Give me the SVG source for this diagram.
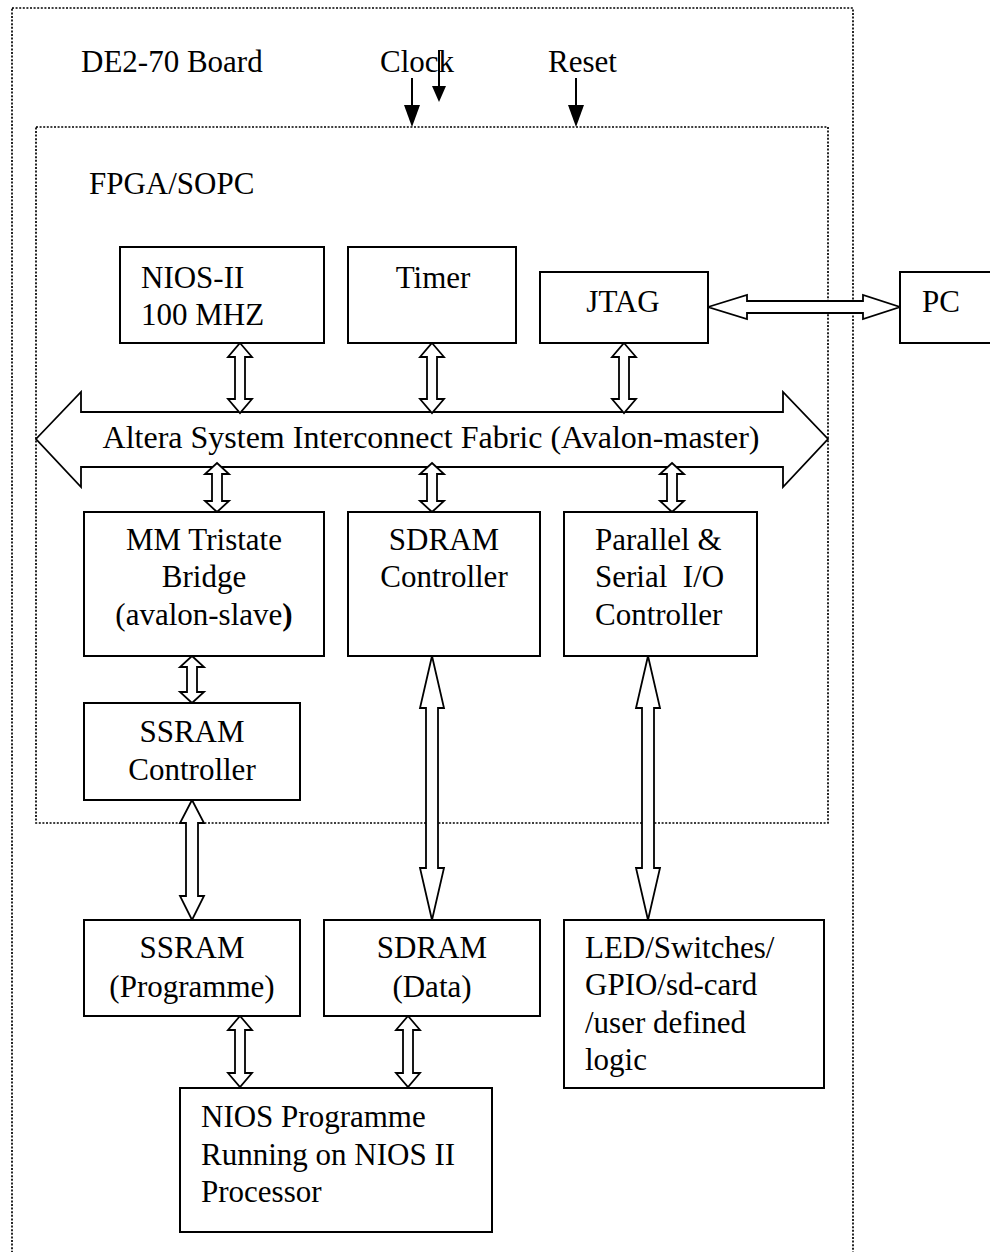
<svg xmlns="http://www.w3.org/2000/svg" width="990" height="1252" viewBox="0 0 990 1252">
<style>
text{font-family:"Liberation Serif","Times New Roman",serif;font-size:31px;fill:#000}
.c{text-anchor:middle}
.box{fill:#fff;stroke:#000;stroke-width:2}
.dot{fill:none;stroke:#000;stroke-width:1.7;stroke-dasharray:2 1.6}
.dbl{fill:#fff;stroke:#000;stroke-width:1.8;stroke-linejoin:miter}
.sig{stroke:#000;stroke-width:2;fill:none}
.head{fill:#000}
</style>
<rect width="990" height="1252" fill="#fff"/>
<g id="board">
<rect class="dot" x="12" y="8" width="841" height="1270"/>
<text x="81" y="72">DE2-70 Board</text>
<text x="380" y="72">Clock</text>
<text x="548" y="72">Reset</text>
</g>
<g id="fpga">
<rect class="dot" x="36" y="127" width="792" height="696"/>
<text x="89" y="194">FPGA/SOPC</text>
</g>
<g id="connectors">
<line class="sig" x1="412" y1="78" x2="412" y2="105"/>
<polygon class="head" points="404,105 420,105 412,127"/>
<line class="sig" x1="439" y1="50" x2="439" y2="86"/>
<polygon class="head" points="432,86 446,86 439,102"/>
<line class="sig" x1="576" y1="78" x2="576" y2="105"/>
<polygon class="head" points="568,105 584,105 576,127"/>
<polygon class="dbl" points="36,439 81,392 81,412 783,412 783,392 828,439 783,487 783,467 81,467 81,487"/>
<polygon class="dbl" points="708,307 747,295 747,301 863,301 863,295 900,307 863,319 863,313 747,313 747,319"/>
<polygon class="dbl" points="240,343 252,357 245,357 245,399 252,399 240,413 228,399 235,399 235,357 228,357"/>
<polygon class="dbl" points="432,343 444,357 437,357 437,399 444,399 432,413 420,399 427,399 427,357 420,357"/>
<polygon class="dbl" points="624,343 636,357 629,357 629,399 636,399 624,413 612,399 619,399 619,357 612,357"/>
<polygon class="dbl" points="217,463 229,474 222,474 222,501 229,501 217,512 205,501 212,501 212,474 205,474"/>
<polygon class="dbl" points="432,463 444,474 437,474 437,501 444,501 432,512 420,501 427,501 427,474 420,474"/>
<polygon class="dbl" points="672,463 684,474 677,474 677,501 684,501 672,512 660,501 667,501 667,474 660,474"/>
<polygon class="dbl" points="192,656 204,667 197,667 197,692 204,692 192,703 180,692 187,692 187,667 180,667"/>
<polygon class="dbl" points="192,800 204,823 198,823 198,896 204,896 192,920 180,896 186,896 186,823 180,823"/>
<polygon class="dbl" points="432,656 444,708 438,708 438,868 444,868 432,920 420,868 426,868 426,708 420,708"/>
<polygon class="dbl" points="648,656 660,708 654,708 654,868 660,868 648,920 636,868 642,868 642,708 636,708"/>
<polygon class="dbl" points="240,1016 252,1030 245,1030 245,1073 252,1073 240,1087 228,1073 235,1073 235,1030 228,1030"/>
<polygon class="dbl" points="408,1016 420,1030 413,1030 413,1073 420,1073 408,1087 396,1073 403,1073 403,1030 396,1030"/>
</g>
<g id="bus">
<text class="c" x="431" y="448" style="font-size:32px">Altera System Interconnect Fabric (Avalon-master)</text>
</g>
<g id="nios2">
<rect class="box" x="120" y="247" width="204" height="96"/>
<text x="141" y="288">NIOS-II</text>
<text x="141" y="325">100 MHZ</text>
</g>
<g id="timer">
<rect class="box" x="348" y="247" width="168" height="96"/>
<text class="c" x="433" y="288">Timer</text>
</g>
<g id="jtag">
<rect class="box" x="540" y="272" width="168" height="71"/>
<text class="c" x="623" y="312">JTAG</text>
</g>
<g id="pc">
<rect class="box" x="900" y="272" width="110" height="71"/>
<text x="922" y="312">PC</text>
</g>
<g id="mm">
<rect class="box" x="84" y="512" width="240" height="144"/>
<text class="c" x="204" y="550">MM Tristate</text>
<text class="c" x="204" y="587">Bridge</text>
<text class="c" x="204" y="625">(avalon-slave<tspan font-weight="bold">)</tspan></text>
</g>
<g id="sdramctrl">
<rect class="box" x="348" y="512" width="192" height="144"/>
<text class="c" x="444" y="550">SDRAM</text>
<text class="c" x="444" y="587">Controller</text>
</g>
<g id="pio">
<rect class="box" x="564" y="512" width="193" height="144"/>
<text x="595" y="550">Parallel &amp;</text>
<text x="595" y="587" xml:space="preserve">Serial  I/O</text>
<text x="595" y="625">Controller</text>
</g>
<g id="ssramctrl">
<rect class="box" x="84" y="703" width="216" height="97"/>
<text class="c" x="192" y="742">SSRAM</text>
<text class="c" x="192" y="780">Controller</text>
</g>
<g id="ssram">
<rect class="box" x="84" y="920" width="216" height="96"/>
<text class="c" x="192" y="958">SSRAM</text>
<text class="c" x="192" y="997">(Programme)</text>
</g>
<g id="sdram">
<rect class="box" x="324" y="920" width="216" height="96"/>
<text class="c" x="432" y="958">SDRAM</text>
<text class="c" x="432" y="997">(Data)</text>
</g>
<g id="io">
<rect class="box" x="564" y="920" width="260" height="168"/>
<text x="585" y="958">LED/Switches/</text>
<text x="585" y="995">GPIO/sd-card</text>
<text x="585" y="1033">/user defined</text>
<text x="585" y="1070">logic</text>
</g>
<g id="niosprog">
<rect class="box" x="180" y="1088" width="312" height="144"/>
<text x="201" y="1127">NIOS Programme</text>
<text x="201" y="1165">Running on NIOS II</text>
<text x="201" y="1202">Processor</text>
</g>
</svg>
